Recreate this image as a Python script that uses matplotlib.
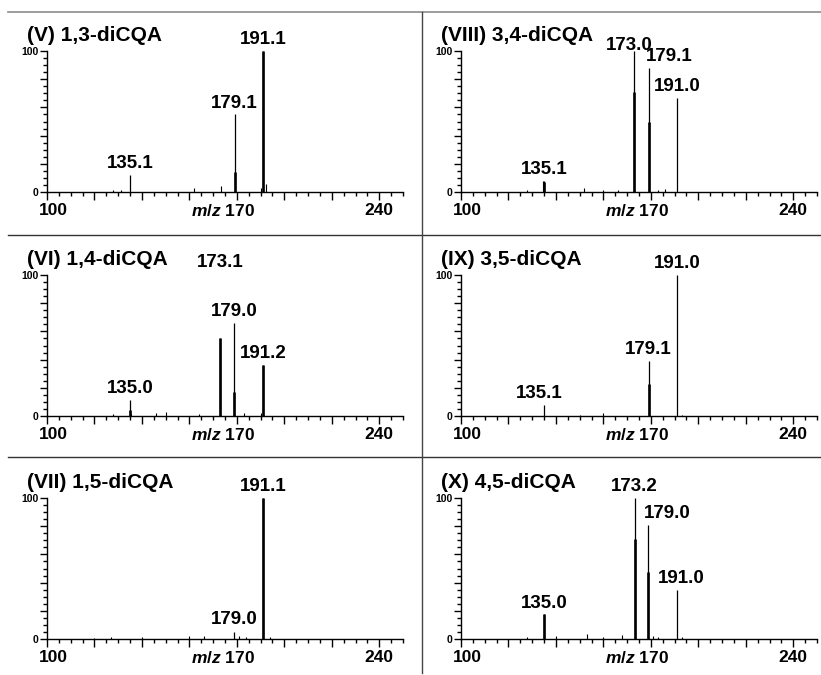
import matplotlib
matplotlib.use("Agg")
import matplotlib.pyplot as plt
from matplotlib.lines import Line2D
from matplotlib.ticker import MultipleLocator

plt.rcParams['font.family'] = ['Liberation Sans', 'DejaVu Sans']
plt.rcParams['font.weight'] = 'bold'
plt.rcParams['mathtext.fontset'] = 'custom'
plt.rcParams['mathtext.it'] = 'Liberation Sans:italic:bold'
plt.rcParams['mathtext.rm'] = 'Liberation Sans:bold'

# panels in reading order (row by row)
titles = ["(V) 1,3-diCQA", "(VIII) 3,4-diCQA",
          "(VI) 1,4-diCQA", "(IX) 3,5-diCQA",
          "(VII) 1,5-diCQA", "(X) 4,5-diCQA"]

# labelled peaks: m/z, full height (thin stick), inner height (thick stick)
peak_mz = [[135.1, 179.1, 191.1],
           [135.1, 173.0, 179.1, 191.0],
           [135.0, 173.1, 179.0, 191.2],
           [135.1, 179.1, 191.0],
           [179.0, 191.1],
           [135.0, 173.2, 179.0, 191.0]]
peak_thin = [[12, 55, 100],
             [8, 100, 88, 67],
             [11.5, 55, 66, 36],
             [8, 39, 100],
             [5, 100],
             [17.5, 100, 81, 35]]
peak_thick = [[0, 14, 100],
              [7, 71, 50, 0],
              [4, 55, 17, 36],
              [0, 23, 0],
              [0, 100],
              [17.5, 71, 47.5, 0]]
peak_text = [["135.1", "179.1", "191.1"],
             ["135.1", "173.0", "179.1", "191.0"],
             ["135.0", "173.1", "179.0", "191.2"],
             ["135.1", "179.1", "191.0"],
             ["179.0", "191.1"],
             ["135.0", "173.2", "179.0", "191.0"]]

# small unlabelled signals near the baseline
noise_mz = [[128, 131, 162, 173.5, 190.3, 192.2],
            [134.6, 128, 152, 160, 166, 183, 186],
            [135.4, 128, 146, 150, 164, 183, 190],
            [150, 160, 193],
            [120, 127, 140, 160, 166, 181, 184, 194],
            [128, 140, 153, 160, 168, 181, 183, 193]]
noise_h = [[1.5, 1.5, 2.5, 4, 3, 5.5],
           [8, 1.5, 2.5, 1.5, 1.5, 1.5, 2],
           [1.5, 1.5, 2, 2.5, 1.5, 2, 2],
           [1, 2, 1],
           [1, 1.5, 1.5, 2, 2, 2, 1.5, 1.5],
           [1.5, 2, 3.5, 1.5, 3, 2, 1.5, 1.5]]

# label placement tweaks (panel, peak index) -> shift in m/z or fixed height
label_dx = {(1, 1): -2.0, (1, 2): 8.5, (5, 2): 8.0, (3, 0): -2.0, (5, 3): 2.0}
label_y = {(1, 1): 96, (2, 1): 101, (4, 0): 6}

fig = plt.figure(figsize=(8.21, 6.75), dpi=100)

W, H = 821, 675
col_left = [47, 461]
row_top = [51, 275, 498]
ax_w, ax_h = 356, 141

for i in range(6):
    r, c = divmod(i, 2)
    ax = fig.add_axes([col_left[c] / W, 1 - (row_top[r] + ax_h) / H, ax_w / W, ax_h / H])
    ax.set_xlim(100, 250)
    ax.set_ylim(0, 100)
    for s in ["top", "right"]:
        ax.spines[s].set_visible(False)
    for s in ["left", "bottom"]:
        ax.spines[s].set_linewidth(1.0)
    ax.xaxis.set_major_locator(MultipleLocator(20))
    ax.xaxis.set_minor_locator(MultipleLocator(5))
    ax.yaxis.set_major_locator(MultipleLocator(20))
    ax.yaxis.set_minor_locator(MultipleLocator(5))
    ax.tick_params(axis="x", which="major", direction="out", length=6, width=1, labelbottom=False)
    ax.tick_params(axis="x", which="minor", direction="out", length=3, width=1)
    ax.tick_params(axis="y", which="major", direction="out", length=5, width=1, pad=1, labelsize=7.5)
    ax.tick_params(axis="y", which="minor", direction="out", length=3, width=1)
    ax.set_yticks([0, 20, 40, 60, 80, 100])
    ax.set_yticklabels(["0", "", "", "", "", "100"], fontweight="bold")

    # baseline noise
    ax.vlines(noise_mz[i], 0, noise_h[i], colors="black", linewidth=0.8)
    # peaks
    ax.vlines(peak_mz[i], 0, peak_thin[i], colors="black", linewidth=0.9)
    ax.vlines(peak_mz[i], 0, peak_thick[i], colors="black", linewidth=1.9)

    for k, (mz, h, t) in enumerate(zip(peak_mz[i], peak_thin[i], peak_text[i])):
        x = mz + label_dx.get((i, k), 0)
        y = label_y.get((i, k), h)
        ax.annotate(t, xy=(x, y), xytext=(0, 2), textcoords="offset points",
                    ha="center", va="bottom", fontsize=13.5, fontweight="bold",
                    annotation_clip=False)

    for xv, t in [(102.5, "100"), (174, r"$\mathit{m/z}$ 170"), (240, "240")]:
        ax.annotate(t, xy=(xv, 0), xycoords=("data", "axes fraction"),
                    xytext=(0, -8), textcoords="offset points",
                    ha="center", va="top", fontsize=12.5, fontweight="bold",
                    annotation_clip=False)

    ax.text(-0.056, 1.068, titles[i], transform=ax.transAxes, ha="left", va="baseline",
            fontsize=15, fontweight="bold")

# panel dividers
fig.add_artist(Line2D([8 / W, 1], [1 - 12 / H, 1 - 12 / H], color="#8c8c8c", linewidth=1.2))
for yp in [235, 457]:
    fig.add_artist(Line2D([8 / W, 1], [1 - yp / H, 1 - yp / H], color="#333333", linewidth=1.0))
fig.add_artist(Line2D([422 / W, 422 / W], [1 - 12 / H, 1 - 673 / H], color="#444444", linewidth=1.0))

fig.savefig("out.png", dpi=100)
